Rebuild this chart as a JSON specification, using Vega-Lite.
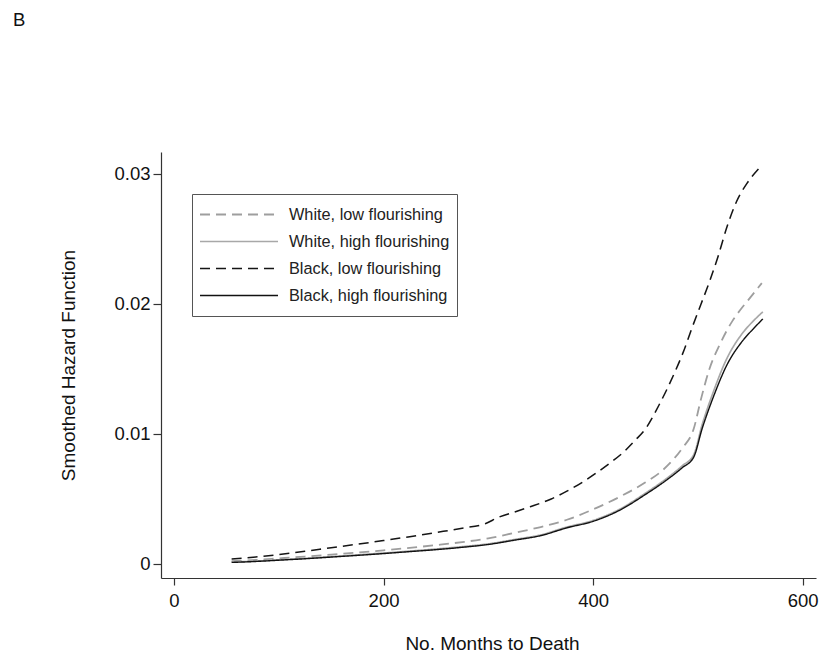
{
  "$schema": "https://vega.github.io/schema/vega-lite/v6.json",
  "width": 655,
  "height": 426,
  "autosize": {"type": "none"},
  "padding": {"left": 161, "top": 152, "right": 7, "bottom": 80},
  "background": "white",
  "title": {
    "text": "B",
    "anchor": "start",
    "frame": "group",
    "orient": "top",
    "fontSize": 18.5,
    "fontWeight": "normal",
    "font": "Liberation Sans",
    "color": "#111111",
    "dx": -148,
    "dy": -123,
    "offset": 0
  },
  "config": {
    "view": {"stroke": null},
    "axis": {
      "grid": false,
      "domainColor": "#333333",
      "tickColor": "#333333",
      "domainWidth": 1.2,
      "tickWidth": 1.2,
      "labelFont": "Liberation Sans",
      "titleFont": "Liberation Sans",
      "labelFontSize": 18.5,
      "titleFontSize": 19,
      "titleFontWeight": "normal",
      "labelColor": "#111111",
      "titleColor": "#111111"
    },
    "legend": {
      "labelFont": "Liberation Sans"
    }
  },
  "data": {
    "values": [
      {"group": "White, low flourishing", "months": 55, "hazard": 0.00022},
      {"group": "White, low flourishing", "months": 80, "hazard": 0.00032},
      {"group": "White, low flourishing", "months": 100, "hazard": 0.00043},
      {"group": "White, low flourishing", "months": 125, "hazard": 0.00057},
      {"group": "White, low flourishing", "months": 150, "hazard": 0.00072},
      {"group": "White, low flourishing", "months": 175, "hazard": 0.00088},
      {"group": "White, low flourishing", "months": 200, "hazard": 0.00105},
      {"group": "White, low flourishing", "months": 225, "hazard": 0.00124},
      {"group": "White, low flourishing", "months": 250, "hazard": 0.00145},
      {"group": "White, low flourishing", "months": 275, "hazard": 0.00168},
      {"group": "White, low flourishing", "months": 300, "hazard": 0.00197},
      {"group": "White, low flourishing", "months": 325, "hazard": 0.0024},
      {"group": "White, low flourishing", "months": 350, "hazard": 0.00284},
      {"group": "White, low flourishing", "months": 375, "hazard": 0.0034},
      {"group": "White, low flourishing", "months": 400, "hazard": 0.0042},
      {"group": "White, low flourishing", "months": 425, "hazard": 0.00515},
      {"group": "White, low flourishing", "months": 450, "hazard": 0.00628},
      {"group": "White, low flourishing", "months": 465, "hazard": 0.00712},
      {"group": "White, low flourishing", "months": 475, "hazard": 0.0079},
      {"group": "White, low flourishing", "months": 485, "hazard": 0.0089},
      {"group": "White, low flourishing", "months": 496, "hazard": 0.0104},
      {"group": "White, low flourishing", "months": 503, "hazard": 0.0127},
      {"group": "White, low flourishing", "months": 511, "hazard": 0.015},
      {"group": "White, low flourishing", "months": 521, "hazard": 0.0169},
      {"group": "White, low flourishing", "months": 533, "hazard": 0.0187},
      {"group": "White, low flourishing", "months": 540, "hazard": 0.0195},
      {"group": "White, low flourishing", "months": 548, "hazard": 0.0203},
      {"group": "White, low flourishing", "months": 561, "hazard": 0.0216},

      {"group": "White, high flourishing", "months": 55, "hazard": 0.00015},
      {"group": "White, high flourishing", "months": 80, "hazard": 0.00023},
      {"group": "White, high flourishing", "months": 100, "hazard": 0.00032},
      {"group": "White, high flourishing", "months": 125, "hazard": 0.00043},
      {"group": "White, high flourishing", "months": 150, "hazard": 0.00056},
      {"group": "White, high flourishing", "months": 175, "hazard": 0.0007},
      {"group": "White, high flourishing", "months": 200, "hazard": 0.00084},
      {"group": "White, high flourishing", "months": 225, "hazard": 0.00099},
      {"group": "White, high flourishing", "months": 250, "hazard": 0.00115},
      {"group": "White, high flourishing", "months": 275, "hazard": 0.00133},
      {"group": "White, high flourishing", "months": 300, "hazard": 0.00155},
      {"group": "White, high flourishing", "months": 325, "hazard": 0.00188},
      {"group": "White, high flourishing", "months": 350, "hazard": 0.00224},
      {"group": "White, high flourishing", "months": 375, "hazard": 0.00284},
      {"group": "White, high flourishing", "months": 400, "hazard": 0.00335},
      {"group": "White, high flourishing", "months": 425, "hazard": 0.0042},
      {"group": "White, high flourishing", "months": 450, "hazard": 0.00545},
      {"group": "White, high flourishing", "months": 470, "hazard": 0.00657},
      {"group": "White, high flourishing", "months": 485, "hazard": 0.00755},
      {"group": "White, high flourishing", "months": 496, "hazard": 0.0084},
      {"group": "White, high flourishing", "months": 504, "hazard": 0.0107},
      {"group": "White, high flourishing", "months": 515, "hazard": 0.0133},
      {"group": "White, high flourishing", "months": 527, "hazard": 0.0157},
      {"group": "White, high flourishing", "months": 543, "hazard": 0.0178},
      {"group": "White, high flourishing", "months": 553, "hazard": 0.0187},
      {"group": "White, high flourishing", "months": 562, "hazard": 0.0194},

      {"group": "Black, low flourishing", "months": 55, "hazard": 0.00038},
      {"group": "Black, low flourishing", "months": 80, "hazard": 0.00055},
      {"group": "Black, low flourishing", "months": 100, "hazard": 0.00072},
      {"group": "Black, low flourishing", "months": 125, "hazard": 0.00097},
      {"group": "Black, low flourishing", "months": 150, "hazard": 0.00125},
      {"group": "Black, low flourishing", "months": 175, "hazard": 0.00152},
      {"group": "Black, low flourishing", "months": 200, "hazard": 0.0018},
      {"group": "Black, low flourishing", "months": 225, "hazard": 0.0021},
      {"group": "Black, low flourishing", "months": 250, "hazard": 0.00242},
      {"group": "Black, low flourishing", "months": 275, "hazard": 0.00275},
      {"group": "Black, low flourishing", "months": 297, "hazard": 0.0031},
      {"group": "Black, low flourishing", "months": 310, "hazard": 0.0036},
      {"group": "Black, low flourishing", "months": 325, "hazard": 0.004},
      {"group": "Black, low flourishing", "months": 340, "hazard": 0.0044},
      {"group": "Black, low flourishing", "months": 360, "hazard": 0.005},
      {"group": "Black, low flourishing", "months": 375, "hazard": 0.0056},
      {"group": "Black, low flourishing", "months": 390, "hazard": 0.0063},
      {"group": "Black, low flourishing", "months": 403, "hazard": 0.007},
      {"group": "Black, low flourishing", "months": 415, "hazard": 0.0077},
      {"group": "Black, low flourishing", "months": 429, "hazard": 0.0086},
      {"group": "Black, low flourishing", "months": 440, "hazard": 0.0095},
      {"group": "Black, low flourishing", "months": 450, "hazard": 0.0104},
      {"group": "Black, low flourishing", "months": 464, "hazard": 0.0124},
      {"group": "Black, low flourishing", "months": 476, "hazard": 0.0144},
      {"group": "Black, low flourishing", "months": 487, "hazard": 0.0165},
      {"group": "Black, low flourishing", "months": 495, "hazard": 0.0183},
      {"group": "Black, low flourishing", "months": 503, "hazard": 0.02},
      {"group": "Black, low flourishing", "months": 511, "hazard": 0.0217},
      {"group": "Black, low flourishing", "months": 519, "hazard": 0.0236},
      {"group": "Black, low flourishing", "months": 528, "hazard": 0.026},
      {"group": "Black, low flourishing", "months": 537, "hazard": 0.0279},
      {"group": "Black, low flourishing", "months": 547, "hazard": 0.0293},
      {"group": "Black, low flourishing", "months": 559, "hazard": 0.0305},

      {"group": "Black, high flourishing", "months": 55, "hazard": 0.00012},
      {"group": "Black, high flourishing", "months": 80, "hazard": 0.0002},
      {"group": "Black, high flourishing", "months": 100, "hazard": 0.00029},
      {"group": "Black, high flourishing", "months": 125, "hazard": 0.0004},
      {"group": "Black, high flourishing", "months": 150, "hazard": 0.00053},
      {"group": "Black, high flourishing", "months": 175, "hazard": 0.00066},
      {"group": "Black, high flourishing", "months": 200, "hazard": 0.0008},
      {"group": "Black, high flourishing", "months": 225, "hazard": 0.00095},
      {"group": "Black, high flourishing", "months": 250, "hazard": 0.0011},
      {"group": "Black, high flourishing", "months": 275, "hazard": 0.00128},
      {"group": "Black, high flourishing", "months": 300, "hazard": 0.0015},
      {"group": "Black, high flourishing", "months": 325, "hazard": 0.00183},
      {"group": "Black, high flourishing", "months": 350, "hazard": 0.00218},
      {"group": "Black, high flourishing", "months": 375, "hazard": 0.00278},
      {"group": "Black, high flourishing", "months": 400, "hazard": 0.00328},
      {"group": "Black, high flourishing", "months": 425, "hazard": 0.00412},
      {"group": "Black, high flourishing", "months": 450, "hazard": 0.00535},
      {"group": "Black, high flourishing", "months": 470, "hazard": 0.00645},
      {"group": "Black, high flourishing", "months": 485, "hazard": 0.0074},
      {"group": "Black, high flourishing", "months": 496, "hazard": 0.00822},
      {"group": "Black, high flourishing", "months": 504, "hazard": 0.0104},
      {"group": "Black, high flourishing", "months": 515, "hazard": 0.0129},
      {"group": "Black, high flourishing", "months": 527, "hazard": 0.0152},
      {"group": "Black, high flourishing", "months": 543, "hazard": 0.0172},
      {"group": "Black, high flourishing", "months": 553, "hazard": 0.0181},
      {"group": "Black, high flourishing", "months": 562, "hazard": 0.01885}
    ]
  },
  "mark": {"type": "line", "interpolate": "monotone", "clip": true},
  "encoding": {
    "x": {
      "field": "months",
      "type": "quantitative",
      "scale": {"domain": [-12.4, 612.7], "nice": false, "zero": false},
      "axis": {
        "title": "No. Months to Death",
        "values": [0, 200, 400, 600],
        "format": "d",
        "tickSize": 7,
        "labelPadding": 6,
        "titleX": 331,
        "titleY": 71,
        "titleBaseline": "alphabetic"
      }
    },
    "y": {
      "field": "hazard",
      "type": "quantitative",
      "scale": {"domain": [-0.00108, 0.03169], "nice": false, "zero": false},
      "axis": {
        "title": "Smoothed Hazard Function",
        "values": [0, 0.01, 0.02, 0.03],
        "labelExpr": "datum.value == 0 ? '0' : format(datum.value, '.2f')",
        "tickSize": 8,
        "labelPadding": 3,
        "titleX": -87,
        "titleY": 213,
        "titleBaseline": "alphabetic"
      }
    },
    "detail": {"field": "group"},
    "stroke": {
      "field": "group",
      "type": "nominal",
      "scale": {
        "domain": ["White, low flourishing", "White, high flourishing", "Black, low flourishing", "Black, high flourishing"],
        "range": ["#9e9e9e", "#a8a8a8", "#151515", "#111111"]
      },
      "legend": {
        "title": null,
        "orient": "none",
        "legendX": 31,
        "legendY": 42,
        "symbolType": "stroke",
        "symbolSize": 6084,
        "clipHeight": 27,
        "rowPadding": 0,
        "padding": 7,
        "labelOffset": 10,
        "labelFontSize": 16.3,
        "labelColor": "#222222",
        "labelLimit": 300,
        "strokeColor": "#555555",
        "fillColor": "white"
      }
    },
    "strokeDash": {
      "field": "group",
      "type": "nominal",
      "scale": {
        "domain": ["White, low flourishing", "White, high flourishing", "Black, low flourishing", "Black, high flourishing"],
        "range": [[10, 6], [1, 0], [10, 6], [1, 0]]
      },
      "legend": null
    },
    "strokeWidth": {
      "field": "group",
      "type": "nominal",
      "scale": {
        "domain": ["White, low flourishing", "White, high flourishing", "Black, low flourishing", "Black, high flourishing"],
        "range": [1.8, 1.4, 2, 2.3]
      },
      "legend": null
    }
  }
}
